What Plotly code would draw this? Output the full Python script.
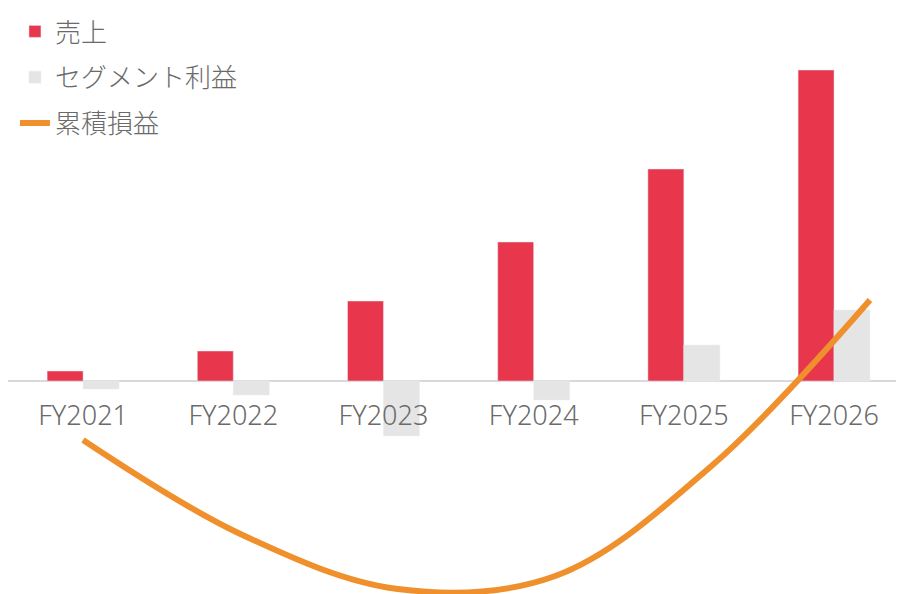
import plotly.graph_objects as go

categories = ["FY2021", "FY2022", "FY2023", "FY2024", "FY2025", "FY2026"]
sales = [10, 30, 80, 139, 212, 311]
segment_profit = [-8, -14, -55, -19, 36, 71]
cumulative_pl = [-59, -153, -208, -195, -84, 81]

RED = "#E8374D"
GRAY = "#E5E5E5"
ORANGE = "#F0902C"
TEXT = "#6A6A6A"
FONT = "Noto Sans CJK JP"

fig = go.Figure()
fig.add_trace(go.Bar(x=categories, y=sales, name="売上", marker_color=RED,
                     legendgroup="a"))
fig.add_trace(go.Bar(x=categories, y=segment_profit, name="セグメント利益",
                     marker_color=GRAY, legendgroup="b"))
fig.add_trace(go.Scatter(x=categories, y=cumulative_pl, name="累積損益",
                         mode="lines", line=dict(color=ORANGE, width=6,
                                                 shape="spline", smoothing=1.0),
                         xaxis="x2", yaxis="y", legendgroup="c"))

fig.update_layout(
    width=904, height=594,
    margin=dict(l=0, r=0, t=0, b=0, autoexpand=False),
    paper_bgcolor="white", plot_bgcolor="rgba(0,0,0,0)",
    font=dict(family=FONT, color=TEXT, size=24, weight=300),
    barmode="group", bargap=0.521, bargroupgap=0,
    showlegend=True,
    legend=dict(x=0.0077, y=1.0, xanchor="left", yanchor="top",
                xref="paper", yref="paper",
                font=dict(size=26, color=TEXT, family=FONT, weight=300),
                tracegroupgap=9, traceorder="grouped",
                bgcolor="rgba(0,0,0,0)", itemclick=False),
    xaxis=dict(type="category", range=[-0.5, 5.519], anchor="free",
               position=(594 - 373) / 594, showline=False, showgrid=False,
               zeroline=False, ticks="", ticklabelstandoff=16,
               tickfont=dict(size=27, color=TEXT, family="Noto Sans",
                             weight=300)),
    xaxis2=dict(type="category", overlaying="x", range=[-0.4765, 5.267],
                visible=False),
    yaxis=dict(range=[-221, 373], visible=True, showticklabels=False,
               showgrid=False, zeroline=True, zerolinecolor="#D9D9D9",
               zerolinewidth=2, ticks=""),
)

fig.write_html("out.html")
